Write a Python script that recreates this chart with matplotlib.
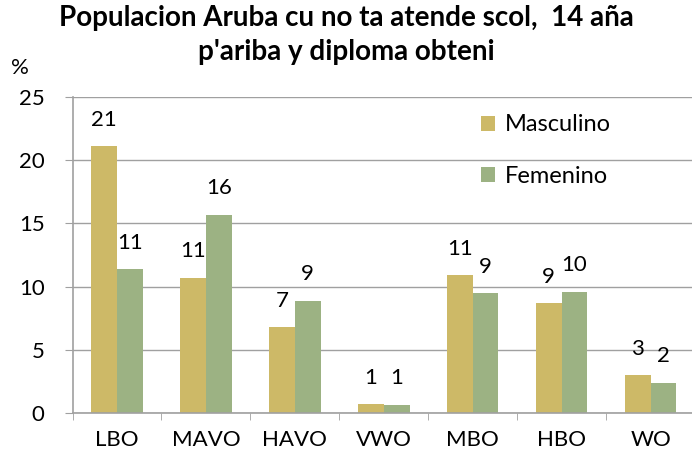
import matplotlib.pyplot as plt
import numpy as np

plt.rcParams['font.family'] = ['Lato', 'DejaVu Sans']

categorias = ['LBO', 'MAVO', 'HAVO', 'VWO', 'MBO', 'HBO', 'WO']
masculino = [21.1, 10.7, 6.8, 0.7, 10.9, 8.7, 3.0]
femenino = [11.4, 15.7, 8.9, 0.65, 9.5, 9.6, 2.4]
etiketa_masc = ['21', '11', '7', '1', '11', '9', '3']
etiketa_fem = ['11', '16', '9', '1', '9', '10', '2']

color_masc = '#CDB967'
color_fem = '#9CB283'
gris = '#A0A0A0'

fig = plt.figure(figsize=(6.92, 4.61), dpi=100)
ax = fig.add_axes([72.5 / 692, 48 / 461, 622.5 / 692, 316 / 461])

x = np.arange(len(categorias))
ancho = 0.29
b1 = ax.bar(x - ancho / 2, masculino, ancho, color=color_masc, label='Masculino')
b2 = ax.bar(x + ancho / 2, femenino, ancho, color=color_fem, label='Femenino')

# etiketanan riba e barnan
for barras, etiketa in ((b1, etiketa_masc), (b2, etiketa_fem)):
    for b, t in zip(barras, etiketa):
        ax.annotate(t, (b.get_x() + b.get_width() / 2, b.get_height()),
                    xytext=(0, 19), textcoords='offset points',
                    ha='center', va='center', fontsize=16)

ax.set_xlim(-0.5, len(categorias) - 0.5)
ax.set_ylim(0, 25)
ax.set_yticks(range(0, 26, 5))
ax.set_xticks(x)
ax.set_xticklabels(categorias)
ax.set_xticks(np.arange(-0.5, len(categorias)), minor=True)
ax.tick_params(axis='x', which='major', length=0, pad=12, labelsize=16)
ax.tick_params(axis='x', which='minor', length=5, color=gris)
ax.tick_params(axis='y', length=6, color=gris, labelsize=16, pad=14)

ax.yaxis.grid(True, color=gris, linewidth=1)
ax.set_axisbelow(True)
for s in ('top', 'right'):
    ax.spines[s].set_visible(False)
for s in ('left', 'bottom'):
    ax.spines[s].set_color(gris)
    ax.spines[s].set_linewidth(1.2)

ax.legend(loc='upper left', bbox_to_anchor=(0.622, 1.012), frameon=False,
          fontsize=17, handlelength=0.6, handleheight=0.6,
          labelspacing=1.3, handletextpad=0.4)

fig.text(0.5, 1 - 5 / 461, "Populacion Aruba cu no ta atende scol,  14 aña\np'ariba y diploma obteni",
         ha='center', va='top', fontsize=20, fontweight='bold', linespacing=1.4)
fig.text(11 / 692, 1 - 74 / 461, '%', fontsize=16, ha='left', va='baseline')

fig.savefig('out.png', dpi=100)
